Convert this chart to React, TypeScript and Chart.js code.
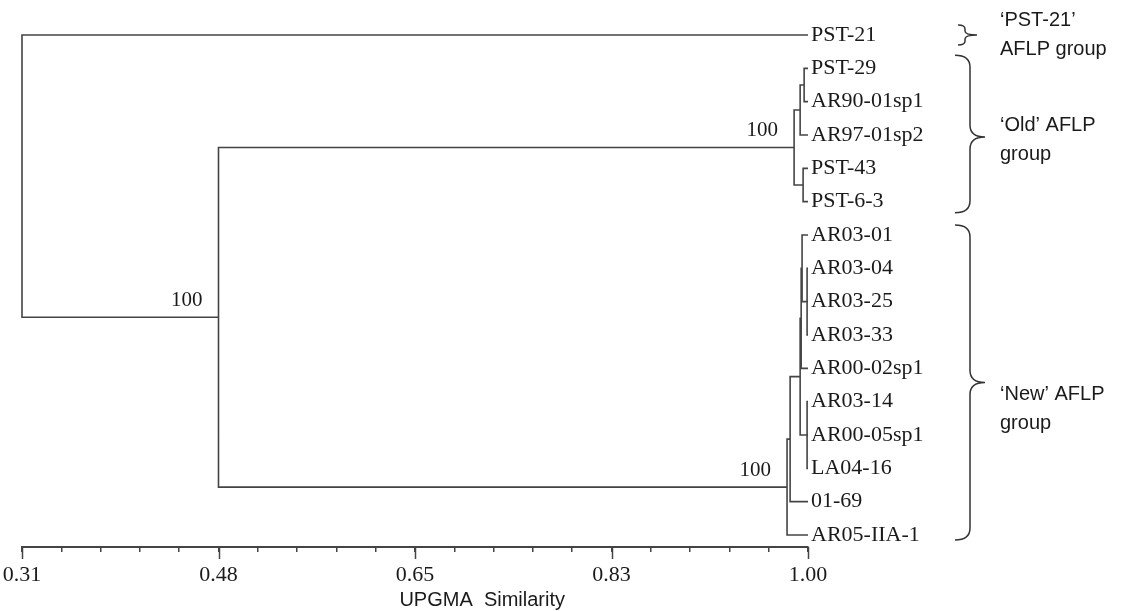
import React, { useEffect, useRef } from "react";
import { Chart, registerables } from "chart.js";

Chart.register(...registerables);

// ---- data ----
const leafLabels = [
  "PST-21",
  "PST-29",
  "AR90-01sp1",
  "AR97-01sp2",
  "PST-43",
  "PST-6-3",
  "AR03-01",
  "AR03-04",
  "AR03-25",
  "AR03-33",
  "AR00-02sp1",
  "AR03-14",
  "AR00-05sp1",
  "LA04-16",
  "01-69",
  "AR05-IIA-1",
];
const leafSimilarity = 1.0;

const nodeIds = ["O1", "O2", "O3", "OLD", "N1", "N2", "N5", "N3", "N6", "N7", "NEW", "G", "ROOT"];
const nodeSimilarity = [0.9966, 0.9931, 0.9957, 0.9878, 0.9992, 0.9948, 0.994, 0.9992, 0.9931, 0.9843, 0.9816, 0.4825, 0.31];
const nodeChildren = [
  ["PST-29", "AR90-01sp1"],
  ["O1", "AR97-01sp2"],
  ["PST-43", "PST-6-3"],
  ["O2", "O3"],
  ["AR03-04", "AR03-25", "AR03-33"],
  ["AR03-01", "N1"],
  ["N2", "AR00-02sp1"],
  ["AR03-14", "AR00-05sp1", "LA04-16"],
  ["N5", "N3"],
  ["N6", "01-69"],
  ["N7", "AR05-IIA-1"],
  ["OLD", "NEW"],
  ["PST-21", "G"],
];

const bootstrapNodes = ["G", "OLD", "NEW"];
const bootstrapValues = [100, 100, 100];

const xMin = 0.31;
const xMax = 1.0;
const xMajorTicks = [0.31, 0.4825, 0.655, 0.8275, 1.0];
const xTickLabels = ["0.31", "0.48", "0.65", "0.83", "1.00"];
const minorPerMajor = 5;
const xAxisTitle = "UPGMA  Similarity";

const groupLines = [
  ["\u2018PST-21\u2019", "AFLP group"],
  ["\u2018Old\u2019 AFLP", "group"],
  ["\u2018New\u2019 AFLP", "group"],
];
const groupFirstLeaf = [0, 1, 6];
const groupLastLeaf = [0, 5, 15];

// ---- tree building ----
function buildTree() {
  const yOf: Record<string, number> = {};
  const xOf: Record<string, number> = {};
  leafLabels.forEach((l, i) => {
    yOf[l] = i;
    xOf[l] = leafSimilarity;
  });
  const pts: { x: number; y: number }[] = [];
  const gap = () => pts.push({ x: NaN, y: NaN });
  nodeIds.forEach((id, k) => {
    const x = nodeSimilarity[k];
    const ch = [...nodeChildren[k]].sort((a, b) => yOf[a] - yOf[b]);
    const first = ch[0];
    const last = ch[ch.length - 1];
    pts.push({ x: xOf[first], y: yOf[first] });
    pts.push({ x, y: yOf[first] });
    pts.push({ x, y: yOf[last] });
    pts.push({ x: xOf[last], y: yOf[last] });
    gap();
    ch.slice(1, -1).forEach((c) => {
      pts.push({ x, y: yOf[c] });
      pts.push({ x: xOf[c], y: yOf[c] });
      gap();
    });
    yOf[id] = (yOf[first] + yOf[last]) / 2;
    xOf[id] = x;
  });
  return { pts, yOf, xOf };
}

const LINE = "#444444";
const TEXT = "#1a1a1a";

// brace geometry per group (pixels relative to leaf rows)
const braceTopPad = [10, 13, 10];
const braceBottomPad = [10, 11, 5];
const braceTipShift = [0, 3, 0];
const textFirstOffset = [-15, -12, 12];

export default function App() {
  const ref = useRef<HTMLCanvasElement | null>(null);

  useEffect(() => {
    document.body.style.margin = "0";
    const canvas = ref.current;
    if (!canvas) return;
    const { pts, yOf, xOf } = buildTree();

    const step = (xMajorTicks[1] - xMajorTicks[0]) / minorPerMajor;
    const allTicks: number[] = [];
    for (let k = 0; k <= (xMajorTicks.length - 1) * minorPerMajor; k++) allTicks.push(xMin + k * step);

    const annot = {
      id: "annot",
      afterDraw(chart: any) {
        const ctx = chart.ctx as CanvasRenderingContext2D;
        const xs = chart.scales.x;
        const ys = chart.scales.y;
        const area = chart.chartArea;
        ctx.save();
        // major tick extensions
        ctx.strokeStyle = LINE;
        ctx.lineWidth = 1.5;
        xMajorTicks.forEach((v) => {
          const px = Math.round(xs.getPixelForValue(v)) + 0.5;
          ctx.beginPath();
          ctx.moveTo(px, area.bottom);
          ctx.lineTo(px, area.bottom + 12);
          ctx.stroke();
        });
        // bootstrap labels
        ctx.fillStyle = TEXT;
        ctx.font = '21px "Liberation Serif"';
        ctx.textAlign = "right";
        ctx.textBaseline = "middle";
        bootstrapNodes.forEach((id, i) => {
          const px = xs.getPixelForValue(xOf[id]);
          const py = ys.getPixelForValue(yOf[id]);
          ctx.fillText(String(bootstrapValues[i]), px - 16, py - 17);
        });
        // axis title
        ctx.font = '20px "Liberation Sans"';
        ctx.textAlign = "center";
        ctx.fillText(xAxisTitle, xs.getPixelForValue(0.714), 600);
        // braces + group labels
        groupLines.forEach((lines, g) => {
          const small = groupFirstLeaf[g] === groupLastLeaf[g];
          const top = ys.getPixelForValue(groupFirstLeaf[g]) - braceTopPad[g];
          const bottom = ys.getPixelForValue(groupLastLeaf[g]) + braceBottomPad[g];
          const tip = (top + bottom) / 2 + braceTipShift[g];
          const xl = small ? 958 : 955;
          const xm = small ? 965 : 970;
          const xt = small ? 977 : 985;
          const r = small ? 4 : 12;
          ctx.strokeStyle = "#333";
          ctx.lineWidth = 1.5;
          ctx.beginPath();
          ctx.moveTo(xl, top);
          ctx.quadraticCurveTo(xm, top, xm, top + r);
          ctx.lineTo(xm, tip - r);
          ctx.quadraticCurveTo(xm, tip, xt, tip);
          ctx.quadraticCurveTo(xm, tip, xm, tip + r);
          ctx.lineTo(xm, bottom - r);
          ctx.quadraticCurveTo(xm, bottom, xl, bottom);
          ctx.stroke();
          ctx.fillStyle = TEXT;
          ctx.font = '20px "Liberation Sans"';
          ctx.textAlign = "left";
          ctx.textBaseline = "middle";
          const off = textFirstOffset[g];
          ctx.fillText(lines[0], 1000, tip + off);
          ctx.fillText(lines[1], 1000, tip + off + 29);
        });
        ctx.restore();
      },
    };

    const chart = new Chart(canvas, {
      type: "scatter",
      data: {
        datasets: [
          {
            data: pts,
            showLine: true,
            borderColor: LINE,
            borderWidth: 1.6,
            pointRadius: 0,
            spanGaps: false,
            clip: false as any,
            borderJoinStyle: "miter",
          } as any,
        ],
      },
      options: {
        animation: false,
        responsive: true,
        maintainAspectRatio: false,
        events: [],
        layout: { padding: { top: 18, left: 22, right: 0, bottom: 0 } },
        plugins: { legend: { display: false }, tooltip: { enabled: false }, title: { display: false } },
        scales: {
          x: {
            type: "linear",
            min: xMin,
            max: xMax,
            afterBuildTicks: (scale: any) => {
              scale.ticks = allTicks.map((v) => ({ value: v }));
            },
            afterFit: (scale: any) => {
              scale.height = 64;
              scale.paddingLeft = 0;
              scale.paddingRight = 0;
            },
            ticks: {
              autoSkip: false,
              maxRotation: 0,
              padding: 10,
              color: TEXT,
              font: { family: "Liberation Serif", size: 22 },
              callback: (_v: any, i: number) => (i % minorPerMajor === 0 ? xTickLabels[i / minorPerMajor] : ""),
            },
            grid: { display: true, drawOnChartArea: false, drawTicks: true, tickLength: 5, color: LINE, lineWidth: 1.5 },
            border: { display: true, color: LINE, width: 2 },
          },
          y: {
            type: "linear",
            position: "right",
            reverse: true,
            min: -0.51,
            max: 15.36,
            afterBuildTicks: (scale: any) => {
              scale.ticks = leafLabels.map((_, i) => ({ value: i }));
            },
            afterFit: (scale: any) => {
              scale.width = 316;
            },
            ticks: {
              autoSkip: false,
              padding: 3,
              color: TEXT,
              font: { family: "Liberation Serif", size: 22 },
              callback: (v: any) => leafLabels[v as number] ?? "",
            },
            grid: { display: false, drawTicks: false },
            border: { display: false },
          },
        },
      },
      plugins: [annot],
    });
    return () => chart.destroy();
  }, []);

  return (
    <div style={{ width: "1124px", height: "611px", position: "relative" }}>
      <canvas ref={ref} />
    </div>
  );
}
